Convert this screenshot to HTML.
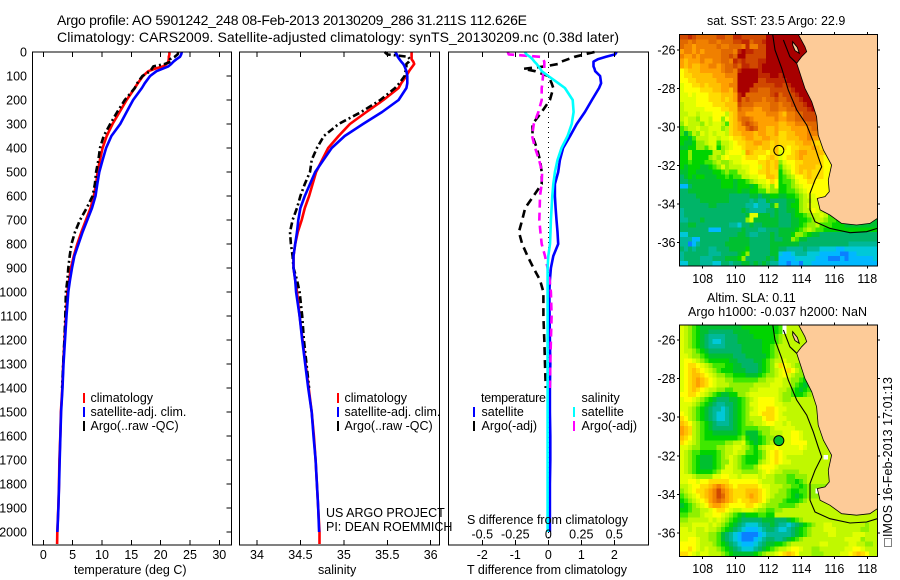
<!DOCTYPE html>
<html>
<head>
<meta charset="utf-8">
<title>Argo profile</title>
<style>
html,body{margin:0;padding:0;background:#fff;}
svg{display:block;}
text{font-family:"Liberation Sans",sans-serif;font-size:12px;fill:#000;}
.t{font-size:14px;}
.sm{font-size:12.5px;}
</style>
</head>
<body>
<svg id="fig" xmlns="http://www.w3.org/2000/svg" width="900" height="580" viewBox="0 0 900 580">
  <rect x="0" y="0" width="900" height="580" fill="#fff"/>
  <g id="map1"></g>
  <g id="map2"></g>
  <g id="p1"></g>
  <g id="p2"></g>
  <g id="p3"></g>

  <text class="t" x="57" y="25" textLength="470" lengthAdjust="spacing">Argo profile: AO 5901242_248 08-Feb-2013 20130209_286 31.211S 112.626E</text>
  <text class="t" x="57" y="42" textLength="562" lengthAdjust="spacing">Climatology: CARS2009. Satellite-adjusted climatology: synTS_20130209.nc (0.38d later)</text>

  <text class="sm" x="74" y="574">temperature (deg C)</text>
  <text class="sm" x="318" y="574">salinity</text>
  <text class="sm" x="467" y="574">T difference from climatology</text>
  <text class="sm" x="467" y="524">S difference from climatology</text>

  <rect x="83" y="393" width="2" height="10" fill="#f00"/>
  <rect x="83" y="407" width="2" height="10" fill="#00f"/>
  <rect x="83" y="421" width="2" height="10" fill="#000"/>
  <text class="sm" x="90.5" y="402">climatology</text>
  <text class="sm" x="90.5" y="416">satellite-adj. clim.</text>
  <text class="sm" x="90.5" y="430">Argo(..raw -QC)</text>

  <rect x="337" y="393" width="2" height="10" fill="#f00"/>
  <rect x="337" y="407" width="2" height="10" fill="#00f"/>
  <rect x="337" y="421" width="2" height="10" fill="#000"/>
  <text class="sm" x="344.5" y="402">climatology</text>
  <text class="sm" x="344.5" y="416">satellite-adj. clim.</text>
  <text class="sm" x="344.5" y="430">Argo(..raw -QC)</text>

  <text class="sm" x="326" y="517">US ARGO PROJECT</text>
  <text class="sm" x="326" y="531">PI: DEAN ROEMMICH</text>

  <text class="sm" x="481" y="402" textLength="65" lengthAdjust="spacing">temperature</text>
  <rect x="473" y="407" width="2" height="10" fill="#00f"/>
  <rect x="473" y="421" width="2" height="10" fill="#000"/>
  <text class="sm" x="481.5" y="416">satellite</text>
  <text class="sm" x="481.5" y="430">Argo(-adj)</text>
  <text class="sm" x="581.5" y="402">salinity</text>
  <rect x="573" y="407" width="2" height="10" fill="#0ff"/>
  <rect x="573" y="421" width="2" height="10" fill="#f0f"/>
  <text class="sm" x="581.5" y="416">satellite</text>
  <text class="sm" x="581.5" y="430">Argo(-adj)</text>

  <text class="sm" x="707" y="25">sat. SST: 23.5 Argo: 22.9</text>
  <text class="sm" x="707" y="302">Altim. SLA: 0.11</text>
  <text class="sm" x="688" y="316" textLength="179" lengthAdjust="spacing">Argo h1000: -0.037 h2000: NaN</text>

  <rect x="884.5" y="538.5" width="7" height="8" fill="none" stroke="#000" stroke-width="1" stroke-dasharray="1 1"/>
  <text class="sm" transform="translate(892,537) rotate(-90)" x="0" y="0" textLength="160" lengthAdjust="spacing">IMOS 16-Feb-2013 17:01:13</text>
</svg>
<script>
// ---------- profile data ----------
const depths = [0,10,20,30,40,50,60,70,80,100,130,150,200,250,300,350,400,450,500,550,600,650,700,750,800,850,900,950,1000,1100,1200,1300,1400,1500,1600,1700,1800,1900,2000,2050];
const climT = [21.5,21.5,21.4,21.4,21.3,21.0,20.4,19,17.9,17.0,16.1,15.6,14.2,13.0,11.8,10.8,10.1,9.65,9.26,9.0,8.6,8.07,7.27,6.5,5.8,5.2,4.7,4.4,4.1,3.85,3.62,3.4,3.24,3.0,2.9,2.75,2.68,2.56,2.39,2.35];
const satT = [23.6,23.5,23.3,22.7,22.2,21.8,21.3,20.3,19.3,18.2,17.3,16.8,15.3,14.2,13.1,11.6,10.7,10.1,9.55,9.2,8.9,8.3,7.5,6.7,6.0,5.3,4.9,4.55,4.26,3.95,3.7,3.45,3.28,3.03,2.92,2.8,2.7,2.57,2.4,null];
const argoT = [23.0,22.9,22.4,21.6,21.8,20.7,18.75,18.5,18.2,16.9,16.0,15.6,13.9,12.6,11.4,10.3,9.66,9.4,9.0,8.8,8.4,7.4,6.25,5.4,4.8,4.5,4.26,4.1,3.86,3.75,3.6,3.4,3.2,null,null,null,null,null,null,null];
const climS = [35.78,35.78,35.78,35.78,35.8,35.81,35.79,35.77,35.75,35.72,35.66,35.63,35.455,35.26,35.07,34.94,34.82,34.75,34.68,34.64,34.6,34.55,34.515,34.47,34.44,34.42,34.42,34.44,34.46,34.49,34.525,34.56,34.595,34.63,34.655,34.675,34.69,34.705,34.72,34.72];
const satS = [35.59,35.61,35.62,35.64,35.66,35.685,35.7,35.71,35.72,35.73,35.73,35.72,35.63,35.44,35.22,35.01,34.86,34.765,34.67,34.61,34.55,34.5,34.475,34.46,34.44,34.42,34.42,34.44,34.45,34.49,34.52,34.555,34.59,34.63,34.65,34.675,34.69,34.705,34.715,null];
const argoS = [35.47,35.5,35.74,35.76,35.75,35.72,35.72,35.72,35.71,35.7,35.64,35.59,35.42,35.2,34.94,34.77,34.69,34.63,34.61,34.55,34.5,34.46,34.41,34.38,34.39,34.41,34.42,34.46,34.49,34.52,34.54,34.57,34.6,null,null,null,null,null,null,null];
const diffTSat = [2.07,2.02,1.75,1.5,1.37,1.37,1.37,1.4,1.42,1.57,1.6,1.54,1.32,1.11,.86,.66,.45,.35,.3,.2,.2,.22,.25,.28,.3,.15,.08,.05,.03,.04,.05,.06,.05,.05,.06,.06,.05,.05,.05,null];
const diffTArgo = [1.4,1.1,.8,.6,.4,.3,-.1,-.75,-.4,0,.1,.15,.05,-.2,-.48,-.48,-.35,-.25,-.2,-.2,-.45,-.7,-.79,-.89,-.79,-.63,-.45,-.25,-.15,-.15,-.12,-.1,-.08,null,null,null,null,null,null,null];
const diffSSat = [-.177,-.165,-.139,-.12,-.105,-.088,-.075,-.06,-.05,0,.076,.126,.185,.192,.177,.146,.1,.07,.05,.038,.03,.025,.02,.017,.013,0,-.005,-.005,-.005,-.005,-.005,-.005,-.005,-.005,-.005,-.005,-.005,-.005,-.005,null];
const diffSArgo = [-.307,-.3,-.06,-.04,-.03,-.03,-.03,-.03,-.04,-.04,-.045,-.05,-.05,-.075,-.11,-.123,-.1,-.07,-.047,-.05,-.063,-.065,-.068,-.06,-.05,-.025,-.005,.01,.02,.025,.02,.015,.012,null,null,null,null,null,null,null];

// ---------- tick labels ----------
const depthTicks = [0,100,200,300,400,500,600,700,800,900,1000,1100,1200,1300,1400,1500,1600,1700,1800,1900,2000];
const tempTicks = [0,5,10,15,20,25,30];
const salTicks = [34,34.5,35,35.5,36];
const diffTTicks = [-2,-1,0,1,2];
const diffSTicks = [-0.5,-0.25,0,0.25,0.5];
const lonTicks = [108,110,112,114,116,118];
const latTicks = [-26,-28,-30,-32,-34,-36];

// ---------- map data (one character = one 0.25 degree cell; level 0 coldest .. j warmest) ----------
const levelChars = "0123456789abcdefghij";
const levelColors = ["#0a80ff","#00b8ff","#00c8d8","#00b898","#00b468","#00c030","#00d400","#40e800","#90f000","#c0f800","#e0ff00","#ffff00","#ffdc00","#ffc000","#ffa000","#f08000","#e06800","#d04800","#c02800","#a80000"];
const sstRows = [
"hhihggggghhggiihhhhhhjjjjjjjjj",
"ggfgfffggfggghhiighhijjjjjjjjj",
"gffefffffgffgggfiffhhjjjjjjjjj",
"effefeffffgggfijiihhhjjjjjjjjj",
"feefefffffgghgjjhhhhhjjjjjjjjj",
"edeeefeeffggfihihhhiijjjjjjjj",
"ededdeeffefgghgiihhijjjjjjjjjj",
"bcdddeeeeefggfijjjjijjjjjjjjj",
"bccdddddeeefffjjjjjiiijjijjjjj",
"bbccdddddeeeefjjjjjhhiiiiijjjj",
"abbccdcdddeeffjjjjhhhhhiihijjj",
"abbbbcccddeedfjjjhhggghhhhhijj",
"aababbbcccdddeijgggggghighhhijj",
"aaaabbbcccdcdeighgggfggh gghhhijj".replace(" ",""),
"9aaabbbbcccdddhgggffffggfgghhhij",
"9aaaaabbbbccddgfffeeffggffgghhhij",
"99aa9aaabbb9cdffeeeeefffedffgghhh",
"9a998aa9bb8bcdfggfeeeeefeeffgghhh",
"8a9998a9aa97cdeghgfeeeeeddeefffgg",
"7899a99aaa89cdeeghgeeddedddeeeefgg",
"75798a9a9aa9cddeeedeeddeccddeeeff",
"6657999aa9aabccdeeddeeddccdddeefe",
"6556889aa799abccddeeddcdccccddeedc",
"55668879a689abbcdddcddcdbcbccdddedcb",
"66866666998abbbaedcccbcdabbcdeeddddcb",
"6686666898abaaabcccbbcdcabccdeddddcbb",
"6676667789889aabbbbccdcd8abbccddddcbb",
"6566655678a8999aabbacdcd79abcddddccbb",
"5566555566787799abbccdcc689bcdcdcccbbb",
"45656655566767799aabbddc6789bbcdcccbbbb",
"4455555555666566789aabcb6778abbccbbbbbe",
"114555555566656665689a8b66789abbbbbbbbb",
"445555555555556556677988667789abbbbbbc",
"4444555555554444455455665566789aabbbbbe",
"44444555555544444343354444556899aaa",
"4444444554444444332333584456689aaa9",
"34444444444444454333344544556899ba987",
"34444444444444445aa555454445667899a97765",
"33444544444444448a55555544455667899877665555555555",
"445544444444332445445555444556788977766655555555",
"444444411144444544433444555567898776666666666666666",
"224444444444445543344454555688765544444444444444444",
"33311444444455555444445445587554444444444444444444",
"33013444444555555444445555555444444444444333333333",
"43434443344455556444445544333343332222112222222222",
"34444443334444568444445521123332221111100112222222",
"34444333444555684444454511112222211100010111111222",
"22444333224434455454543311011022111111111111111111"
];
const slaRows = [
"a98765555555555666666666789999",
"a98765544444455556666666789999",
"a98765433334445555666667899999",
"a98765432234445555556667899999",
"a98765433334444555556678999999",
"a9987654444444455555667899999",
"aa9887655555544455555678999999",
"abba987666665544445567899a9999",
"abccba98777665544445678acba9889",
"abcdcba98766655544456789abcb98889",
"abcddcba9887766655567889aba988779",
"abcdedcba99887777778899aa99887667899",
"abcdedcba9998888889999aaa998765678",
"abcdcba998877888899aaaaa998765678",
"bbccba98765566889aaaaaaa988766789",
"abba98765444556789abbbba98899999",
"aaa98765433445678aabbbbaa9999999",
"aa9876543323456789abbccbaa999999",
"ba987654322345678aabcccba9999999",
"cb987654322345678999bccbaa999999",
"dcb98765433345678899abbaa9a99999",
"edc98765444445677778889aaaaa9999",
"edc9876655555567555788999aabba99",
"dcb9876666666678655678899aabba999",
"cba987777778899a7656789aaaabbbb9",
"aa98877778899aa987689aabaaaaaba9",
"a987766667899a9977678abcbaaaaa99",
"a98765556789a98766678abcba999999",
"a98765556788a98766689abcbaa99999",
"a9876555678aa987778abbba99999999",
"a987666678aaa9988889aba9988889999",
"aaa98888aabbaa9aaaa9a99888778889",
"aabbabbcccccbbbbbbba999888776789",
"99abbccdefedcbcccccbaa9998877678",
"89abccdefhfedcccdddcba9988766778",
"789abcdefhgedcccdedcba9888765678",
"6789abcefgfedcbccddcb98887666789",
"56789abdeedcbbbbccba988877778999",
"6678899abccba99aaa98877889999999",
"778889aabba98765666776699999999",
"8899999a9a98765444445554445678999999999999999999",
"999aaaa9a98765432223445433234567899aa99999999899",
"aa9a99a9987654321112344322345678999aaa9999998899",
"aaaa99988754321000012333333456789999aa9999aaa999",
"aabba99887543210001234433456789999999999aaaa8999",
"bbbba99987654321112345566789999999aa99999aa99889",
"bbcba9a9987654322234567899abba9988999999aabba999",
"ccba9aa9998765555567899abcdcb9998889999aabcdcb99"
];
const slaMissingCols = [25,25,35,33];
const slaMissingRows = [0,1,27,34];

// ---------- coastline data (lon, lat) ----------
const coastLon = [113.81,114.21,114.32,114.01,113.71,113.91,114.21,114.62,114.92,115.02,115.33,115.83,115.63,115.69,115.43,114.96,115.13,115.73,116.44,117.35,118.16,118.61];
const coastLat = [-25.19,-25.83,-26.09,-26.35,-26.69,-27.21,-27.99,-28.68,-29.46,-30.41,-31.19,-31.97,-32.75,-33.35,-33.61,-33.70,-34.30,-34.56,-35.0,-35.08,-35.0,-34.74];
const contourLon = [112.25,112.39,112.80,113.20,113.71,114.32,114.72,115.02,115.23,114.82,114.52,114.52,114.82,115.73,116.95,117.96,118.61];
const contourLat = [-25.19,-26,-26.95,-28.08,-29.11,-29.89,-30.76,-31.54,-32.06,-32.75,-33.44,-34.30,-34.91,-35.26,-35.48,-35.43,-35.26];
const islandLon = [112.90,113.06,113.30,113.71];
const islandLat = [-25.48,-25.83,-26.35,-26.69];
const bayLon = [113.47,113.75,113.87,113.61,113.47];
const bayLat = [-25.57,-25.86,-26.17,-26.03,-25.74];
const floatLon = [112.626];
const floatLat = [-31.211];

// ---------- helpers ----------
const SVGNS = "http://www.w3.org/2000/svg";
function add(parent, tag, attrs, name) {
  const el = document.createElementNS(SVGNS, tag);
  for (const k in attrs) el.setAttribute(k, attrs[k]);
  
  
  parent.appendChild(el);
  return el;
}
function label(parent, x, y, txt, anchor, name) {
  const el = add(parent, "text", {x: x, y: y, "text-anchor": anchor, "class": "sm"}, name);
  el.textContent = txt;
  return el;
}
function linear(d0, d1, r0, r1) {
  return function (v) { return r0 + (v - d0) * (r1 - r0) / (d1 - d0); };
}

// shared depth axis
const TOP = 52, BOTTOM = 545;
const yDepth = linear(0, 2000, 52, 532);

function frame(g, x0, x1, y0, y1, name) {
  add(g, "rect", {x: x0, y: y0, width: x1 - x0, height: y1 - y0, fill: "none", stroke: "#000", "stroke-width": 1, "shape-rendering": "crispEdges"}, name);
}
function vTick(g, x, y0, y1, name) {
  add(g, "line", {x1: x, x2: x, y1: y0, y2: y1, stroke: "#000", "stroke-width": 1, "shape-rendering": "crispEdges"}, name);
}
function hTick(g, x0, x1, y, name) {
  add(g, "line", {x1: x0, x2: x1, y1: y, y2: y, stroke: "#000", "stroke-width": 1, "shape-rendering": "crispEdges"}, name);
}
function profile(g, values, xFn, color, width, dash, name) {
  let pts = [];
  for (let i = 0; i < depths.length; i++) {
    if (values[i] === null) continue;
    pts.push(xFn(values[i]).toFixed(1) + "," + yDepth(depths[i]).toFixed(1));
  }
  const attrs = {points: pts.join(" "), fill: "none", stroke: color, "stroke-width": width, "stroke-linejoin": "round"};
  if (dash) attrs["stroke-dasharray"] = dash;
  add(g, "polyline", attrs, name);
}

// ---------- temperature panel ----------
(function () {
  const g = document.getElementById("p1");
  const L = 32.5, R = 231.5;
  const x = linear(0, 30, 43.3, 219.3);
  profile(g, climT, x, "#f00", 2.6, null, "temperature-climatology-line");
  profile(g, argoT, x, "#000", 2.6, "7 3 2 3", "temperature-argo-line");
  profile(g, satT, x, "#00f", 2.6, null, "temperature-satellite-line");
  frame(g, L, R, TOP, BOTTOM, "temperature-plot-frame");
  tempTicks.forEach(function (t) {
    vTick(g, x(t), TOP, TOP + 5, "temperature-top-tick");
    vTick(g, x(t), BOTTOM - 5, BOTTOM, "temperature-bottom-tick");
    label(g, x(t), 559, String(t), "middle", "temperature-tick-label");
  });
  depthTicks.forEach(function (d) {
    hTick(g, R - 5, R, yDepth(d), "depth-tick");
    label(g, 27, yDepth(d) + 4.5, String(d), "end", "depth-tick-label");
  });
})();

// ---------- salinity panel ----------
(function () {
  const g = document.getElementById("p2");
  const L = 239.5, R = 439.5;
  const x = linear(34, 36, 257, 430.7);
  profile(g, climS, x, "#f00", 2.6, null, "salinity-climatology-line");
  profile(g, argoS, x, "#000", 2.6, "7 3 2 3", "salinity-argo-line");
  profile(g, satS, x, "#00f", 2.6, null, "salinity-satellite-line");
  frame(g, L, R, TOP, BOTTOM, "salinity-plot-frame");
  salTicks.forEach(function (t) {
    vTick(g, x(t), TOP, TOP + 5, "salinity-top-tick");
    vTick(g, x(t), BOTTOM - 5, BOTTOM, "salinity-bottom-tick");
    label(g, x(t), 559, String(t), "middle", "salinity-tick-label");
  });
})();

// ---------- difference panel ----------
(function () {
  const g = document.getElementById("p3");
  const L = 448.5, R = 648.5;
  const xT = linear(-2, 2, 482.3, 614.3);
  const xS = linear(-0.5, 0.5, 482.3, 614.3);
  add(g, "line", {x1: xT(0), x2: xT(0), y1: TOP, y2: BOTTOM, stroke: "#000", "stroke-width": 1, "stroke-dasharray": "1 4", "shape-rendering": "crispEdges"}, "zero-reference-line");
  profile(g, diffTArgo, xT, "#000", 2.6, "8 5", "t-difference-argo-line");
  profile(g, diffTSat, xT, "#00f", 2.6, null, "t-difference-satellite-line");
  profile(g, diffSArgo, xS, "#f0f", 2.6, "8 5", "s-difference-argo-line");
  profile(g, diffSSat, xS, "#0ff", 2.6, null, "s-difference-satellite-line");
  frame(g, L, R, TOP, BOTTOM, "difference-plot-frame");
  diffTTicks.forEach(function (t) {
    vTick(g, xT(t), TOP, TOP + 5, "t-difference-top-tick");
    vTick(g, xT(t), BOTTOM - 5, BOTTOM, "t-difference-bottom-tick");
    label(g, xT(t), 559, String(t), "middle", "t-difference-tick-label");
  });
  diffSTicks.forEach(function (t) {
    label(g, xS(t), 538.5, String(t), "middle", "s-difference-tick-label");
  });
})();

// ---------- maps ----------
function drawMap(g, rows, y0, y1, lat26y, lat36y, labelY, clipId, prefix, fillMarker) {
  const x0 = 679.3, x1 = 877.3;
  const xLon = linear(108, 118, 702.7, 867.3);
  const yLat = linear(-26, -36, lat26y, lat36y);
  const lonStart = 106.6, latStart = -25.2, step = 0.25;
  const clip = add(g, "clipPath", {id: clipId}, prefix + "-clip");
  add(clip, "rect", {x: x0, y: y0, width: x1 - x0, height: y1 - y0}, prefix + "-clip-rect");
  const body = add(g, "g", {"clip-path": "url(#" + clipId + ")", "shape-rendering": "crispEdges"}, prefix + "-cells");
  rows.forEach(function (row, r) {
    for (let c = 0; c < 48; c++) {
      const ch = row[Math.min(c, row.length - 1)];
      const lon = lonStart + c * step, lat = latStart - r * step;
      add(body, "rect", {
        x: xLon(lon).toFixed(2), y: yLat(lat).toFixed(2),
        width: (xLon(lon + step) - xLon(lon) + 0.7).toFixed(2),
        height: (yLat(lat - step) - yLat(lat) + 0.7).toFixed(2),
        fill: levelColors[levelChars.indexOf(ch)]
      }, prefix + "-cell");
    }
  });
  if (prefix === "sla") {
    slaMissingCols.forEach(function (c, i) {
      add(body, "rect", {x: xLon(lonStart + c * step), y: yLat(latStart - slaMissingRows[i] * step), width: 4.1, height: 4.8, fill: "#fff"}, "sla-missing-cell");
    });
  }
  const over = add(g, "g", {"clip-path": "url(#" + clipId + ")"}, prefix + "-overlays");
  function pts(lons, lats) {
    return lons.map(function (v, i) { return xLon(v).toFixed(1) + "," + yLat(lats[i]).toFixed(1); }).join(" ");
  }
  add(over, "polygon", {points: pts(coastLon, coastLat) + " " + (x1 + 5) + "," + yLat(-34.74) + " " + (x1 + 5) + "," + (y0 - 5) + " " + xLon(113.81) + "," + (y0 - 5), fill: "#fdcb98", stroke: "none"}, prefix + "-land");
  add(over, "polyline", {points: pts(coastLon, coastLat), fill: "none", stroke: "#000", "stroke-width": 0.8}, prefix + "-coastline");
  add(over, "polyline", {points: pts(contourLon, contourLat), fill: "none", stroke: "#000", "stroke-width": 1.1}, prefix + "-depth-contour");
  add(over, "polyline", {points: pts(islandLon, islandLat), fill: "none", stroke: "#000", "stroke-width": 1.1}, prefix + "-island-coast");
  add(over, "polygon", {points: pts(bayLon, bayLat), fill: "#fdcb98", stroke: "#000", "stroke-width": 0.9}, prefix + "-shark-bay-land");
  add(g, "circle", {cx: xLon(floatLon[0]), cy: yLat(floatLat[0]), r: 5, fill: fillMarker, stroke: "#000", "stroke-width": 1}, prefix + "-argo-float-marker");
  frame(g, x0, x1, y0, y1, prefix + "-map-frame");
  lonTicks.forEach(function (v) {
    vTick(g, xLon(v), y0 - 2.5, y0, prefix + "-top-tick");
    vTick(g, xLon(v), y1, y1 + 2.5, prefix + "-bottom-tick");
    label(g, xLon(v), labelY, String(v), "middle", prefix + "-longitude-label");
  });
  latTicks.forEach(function (v) {
    hTick(g, x0 - 2.5, x0, yLat(v), prefix + "-left-tick");
    hTick(g, x1, x1 + 2.5, yLat(v), prefix + "-right-tick");
    label(g, 675.5, yLat(v) + 4.5, String(v), "end", prefix + "-latitude-label");
  });
}
drawMap(document.getElementById("map1"), sstRows, 34.3, 266, 50, 242.7, 283, "clipSst", "sst", "none");
drawMap(document.getElementById("map2"), slaRows, 325, 556.7, 340, 533, 573, "clipSla", "sla", "#00c030");
</script>
</body>
</html>
